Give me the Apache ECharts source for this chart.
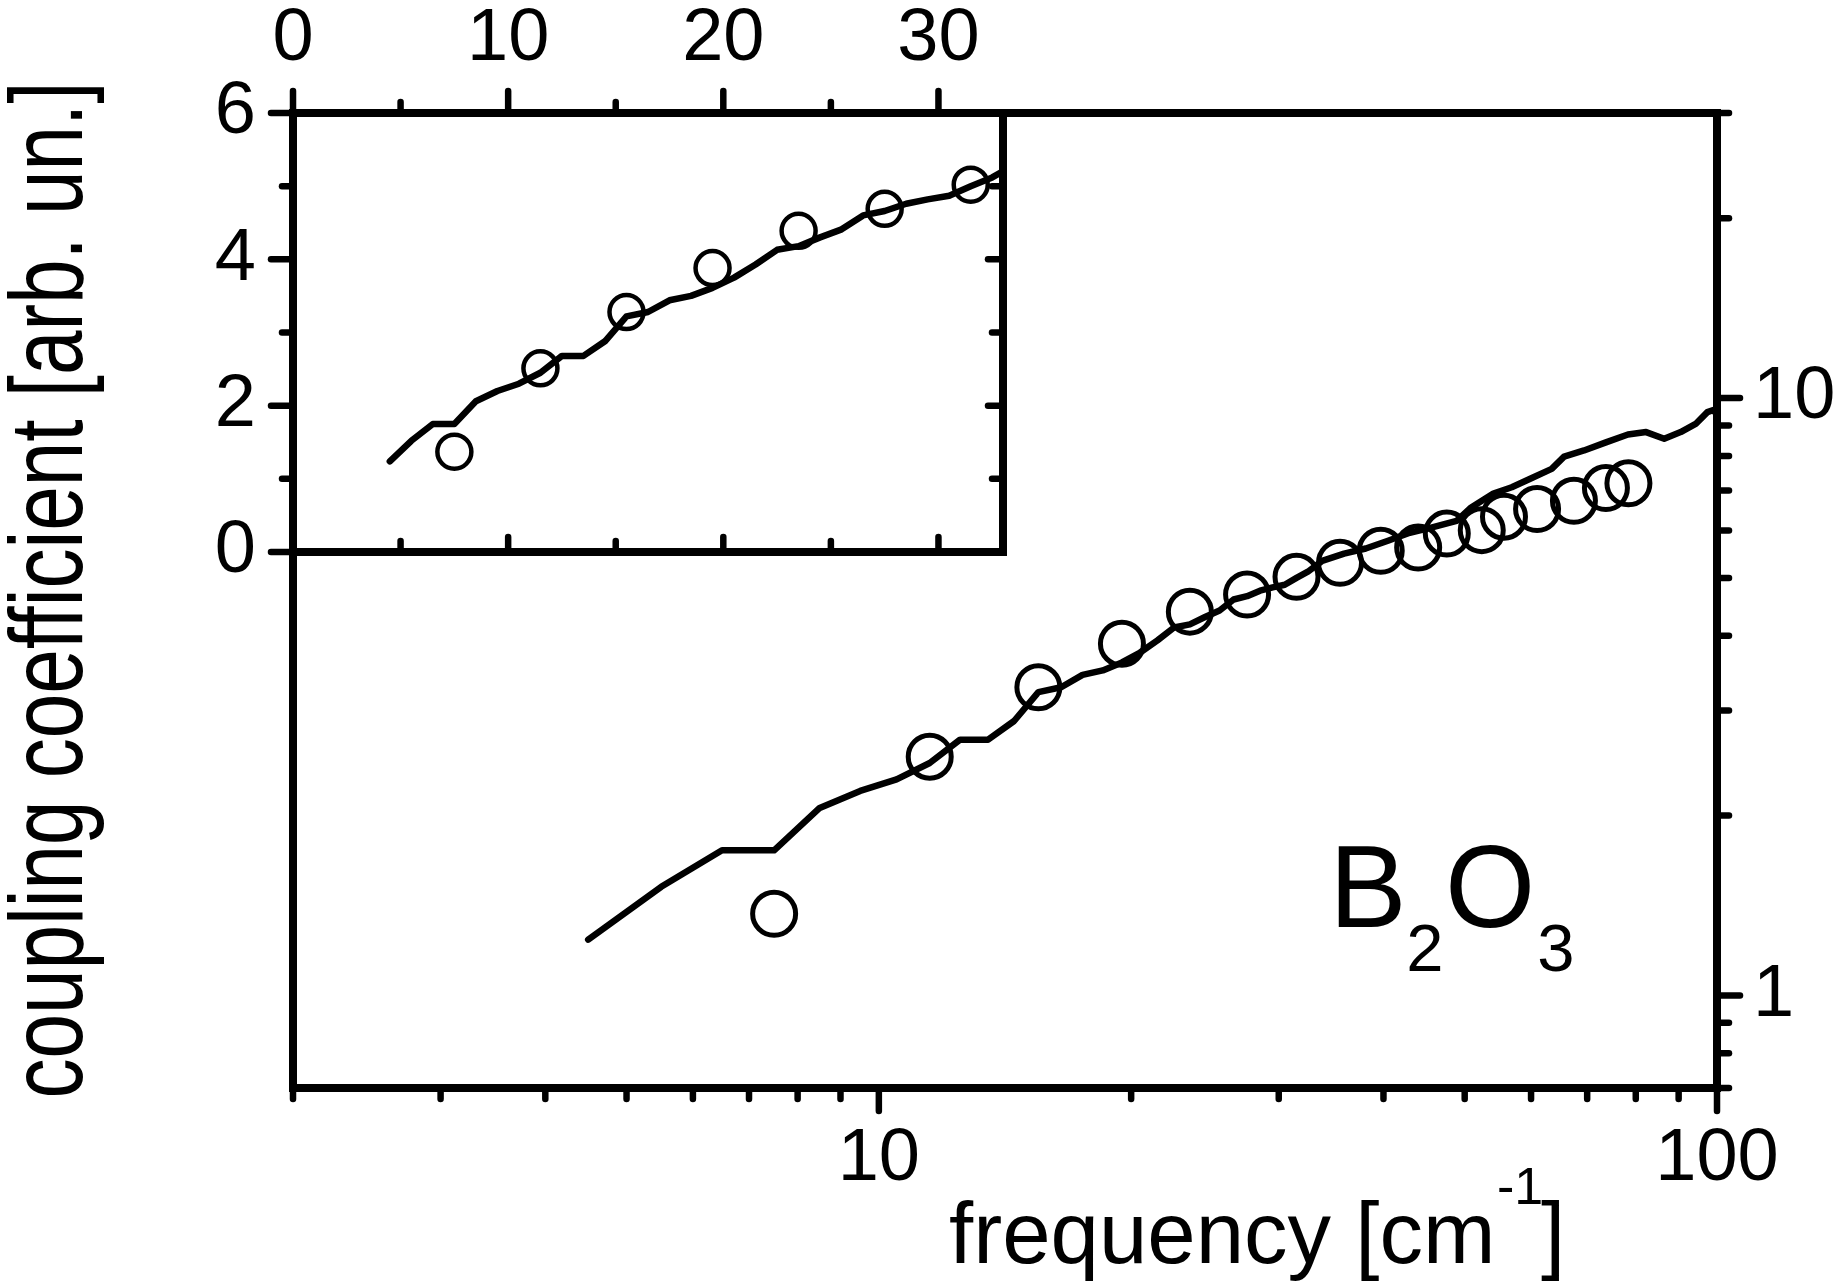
<!DOCTYPE html>
<html>
<head>
<meta charset="utf-8">
<script src="https://cdn.jsdelivr.net/npm/echarts@6/dist/echarts.min.js"></script>
<style>
html,body{margin:0;padding:0;background:#fff;}
#c{width:1843px;height:1287px;}
</style>
</head>
<body>
<div id="c"></div>
<script>
// ---- data ----
const freqLine = [4.5,5.5,6.5,7.5,8.5,9.5,10.5,11.5,12.5,13.5,14.5,15.5,16.5,17.5,18.5,19.5,20.5,21.5,22.5,23.5,24.5,25.5,26.5,27.5,28.5,29.5,30.5,31.5,32.5,33.8,35.9,38.1,40.5,43.0,45.6,48.9,50.9,54.1,56.9,60.4,63.5,65.7,69.4,73.7,78.3,82.3,86.5,90.5,94.3,97.4,99.0,99.9];
const coupLine = [1.24,1.52,1.75,1.75,2.06,2.20,2.30,2.45,2.68,2.68,2.88,3.22,3.28,3.44,3.50,3.61,3.75,3.93,4.13,4.18,4.30,4.41,4.60,4.66,4.76,4.82,4.87,5.00,5.12,5.34,5.49,5.60,5.77,5.95,6.07,6.23,6.56,6.92,7.09,7.37,7.61,7.98,8.17,8.43,8.69,8.77,8.55,8.77,9.05,9.47,9.55,9.40];
const freqCircles = [7.5,11.5,15.5,19.5,23.5,27.5,31.5,35.5,39.7,44.0,47.6,52.4,55.7,61.0,67.5,73.7,78.4];
const coupCircles = [1.37,2.51,3.28,3.88,4.39,4.69,5.02,5.30,5.55,5.62,5.93,6.01,6.33,6.52,6.73,7.07,7.20];

// ---- tick values and labels ----
const mainXLabels = [10, 100];
const mainXMajorTicks = [10, 100];
const mainXMinorTicks = [2,3,4,5,6,7,8,9,20,30,40,50,60,70,80,90];
const mainYLabels = [1, 10];
const mainYMajorTicks = [1, 10];
const mainYMinorTicks = [0.7,0.8,0.9,2,3,4,5,6,7,8,9,20,30];
const insetXLabels = [0, 10, 20, 30];
const insetXMajorTicks = [0, 10, 20, 30];
const insetXMinorTicks = [5, 15, 25];
const insetYLabels = [0, 2, 4, 6];
const insetYMajorTicks = [0, 2, 4, 6];
const insetYMinorTicks = [1, 3, 5];
const insetBottomMajorTicks = [10, 20, 30];
const insetBottomMinorTicks = [5, 15, 25];
const insetRightMajorTicks = [2, 4];
const insetRightMinorTicks = [1, 3, 5];

const FONT = '"Liberation Sans", Arial, Helvetica, sans-serif';
const LW = 8;

const lineData = freqLine.map((f, i) => [f, coupLine[i]]);
const circleData = freqCircles.map((f, i) => [f, coupCircles[i]]);

function near(list, v) { return list.some(t => Math.abs(t - v) <= 1e-6 * Math.max(1, Math.abs(t))); }

function tickSeries(xi, yi, values, dir, base, dx, dy, len) {
  return {
    type: 'custom', xAxisIndex: xi, yAxisIndex: yi, clip: false, silent: true, z: 6,
    data: values.map(v => dir === 'x' ? [v, base] : [base, v]),
    renderItem: function (params, api) {
      const p = api.coord([api.value(0), api.value(1)]);
      return {
        type: 'line',
        shape: { x1: p[0], y1: p[1], x2: p[0] + dx * len, y2: p[1] + dy * len },
        style: { stroke: '#000', lineWidth: 6.5, lineCap: 'round' }
      };
    }
  };
}

const axisLine = { show: true, onZero: false, lineStyle: { color: '#000', width: LW, cap: 'square' } };
const labelBase = { fontSize: 74, fontFamily: FONT, color: '#000' };

const option = {
  animation: false,
  backgroundColor: '#fff',
  grid: [
    { left: 293, top: 113, width: 1424, height: 975, outerBoundsMode: 'none', containLabel: false },
    { left: 293, top: 113, width: 710, height: 439, outerBoundsMode: 'none', containLabel: false }
  ],
  xAxis: [
    { gridIndex: 0, type: 'log', logBase: 10, min: 2, max: 100, position: 'bottom',
      axisLine: axisLine, axisTick: { show: false }, splitLine: { show: false }, minorTick: { show: false },
      axisLabel: Object.assign({ margin: 35, formatter: v => near(mainXLabels, v) ? String(Math.round(v)) : '' }, labelBase) },
    { gridIndex: 0, type: 'log', logBase: 10, min: 2, max: 100, position: 'top',
      axisLine: axisLine, axisTick: { show: false }, splitLine: { show: false }, axisLabel: { show: false } },
    { gridIndex: 1, type: 'value', min: 0, max: 33, interval: 10, position: 'top',
      axisLine: axisLine, axisTick: { show: false }, splitLine: { show: false },
      axisLabel: Object.assign({ margin: 36, formatter: v => near(insetXLabels, v) ? String(v) : '' }, labelBase) },
    { gridIndex: 1, type: 'value', min: 0, max: 33, position: 'bottom',
      axisLine: axisLine, axisTick: { show: false }, splitLine: { show: false }, axisLabel: { show: false } }
  ],
  yAxis: [
    { gridIndex: 0, type: 'log', logBase: 10, min: 0.7, max: 30, position: 'right',
      axisLine: axisLine, axisTick: { show: false }, splitLine: { show: false },
      axisLabel: Object.assign({ margin: 36, formatter: v => near(mainYLabels, v) ? String(Math.round(v)) : '' }, labelBase) },
    { gridIndex: 0, type: 'log', logBase: 10, min: 0.7, max: 30, position: 'left',
      axisLine: axisLine, axisTick: { show: false }, splitLine: { show: false }, axisLabel: { show: false } },
    { gridIndex: 1, type: 'value', min: 0, max: 6, interval: 2, position: 'left',
      axisLine: axisLine, axisTick: { show: false }, splitLine: { show: false },
      axisLabel: Object.assign({ margin: 37, formatter: v => near(insetYLabels, v) ? String(v) : '' }, labelBase) },
    { gridIndex: 1, type: 'value', min: 0, max: 6, position: 'right',
      axisLine: axisLine, axisTick: { show: false }, splitLine: { show: false }, axisLabel: { show: false } }
  ],
  series: [
    { type: 'line', xAxisIndex: 0, yAxisIndex: 0, data: lineData, showSymbol: false, symbol: 'none',
      clip: true, z: 3, silent: true,
      lineStyle: { color: '#000', width: 6.5, join: 'round', cap: 'round', opacity: 1 } },
    { type: 'scatter', xAxisIndex: 0, yAxisIndex: 0, data: circleData, symbol: 'circle', symbolSize: 43,
      z: 4, silent: true,
      itemStyle: { color: 'transparent', borderColor: '#000', borderWidth: 5, opacity: 1 } },
    { type: 'line', xAxisIndex: 2, yAxisIndex: 2, data: lineData, showSymbol: false, symbol: 'none',
      clip: true, z: 3, silent: true,
      lineStyle: { color: '#000', width: 6.5, join: 'round', cap: 'round', opacity: 1 } },
    { type: 'scatter', xAxisIndex: 2, yAxisIndex: 2, data: circleData, symbol: 'circle', symbolSize: 34,
      clip: true, z: 4, silent: true,
      itemStyle: { color: 'transparent', borderColor: '#000', borderWidth: 4.5, opacity: 1 } },

    tickSeries(0, 0, mainXMajorTicks, 'x', 0.7, 0, 1, 23),
    tickSeries(0, 0, mainXMinorTicks, 'x', 0.7, 0, 1, 11),
    tickSeries(0, 0, mainYMajorTicks, 'y', 100, 1, 0, 23),
    tickSeries(0, 0, mainYMinorTicks, 'y', 100, 1, 0, 12),
    tickSeries(2, 2, insetXMajorTicks, 'x', 6, 0, -1, 22),
    tickSeries(2, 2, insetXMinorTicks, 'x', 6, 0, -1, 11),
    tickSeries(2, 2, insetYMajorTicks, 'y', 0, -1, 0, 22),
    tickSeries(2, 2, insetYMinorTicks, 'y', 0, -1, 0, 11),
    tickSeries(2, 2, insetBottomMajorTicks, 'x', 0, 0, -1, 15),
    tickSeries(2, 2, insetBottomMinorTicks, 'x', 0, 0, -1, 11),
    tickSeries(2, 2, insetRightMajorTicks, 'y', 33, -1, 0, 15),
    tickSeries(2, 2, insetRightMinorTicks, 'y', 33, -1, 0, 11)
  ],
  graphic: [
    { type: 'text', x: 949, y: 1239, silent: true,
      style: { text: 'frequency [cm', fontSize: 87, fontFamily: FONT, fill: '#000', align: 'left', verticalAlign: 'middle' } },
    { type: 'text', x: 1497, y: 1190, silent: true,
      style: { text: '-1', fontSize: 52, fontFamily: FONT, fill: '#000', align: 'left', verticalAlign: 'middle' } },
    { type: 'text', x: 1541, y: 1239, silent: true,
      style: { text: ']', fontSize: 87, fontFamily: FONT, fill: '#000', align: 'left', verticalAlign: 'middle' } },
    { type: 'text', x: 53, y: 590, rotation: Math.PI / 2, scaleX: 1, scaleY: 1.3, silent: true,
      style: { text: 'coupling coefficient [arb. un.]', fontSize: 80, fontFamily: FONT, fill: '#000', align: 'center', verticalAlign: 'middle' } },
    { type: 'text', x: 1368, y: 895, silent: true,
      style: { text: 'B', fontSize: 116, fontFamily: FONT, fill: '#000', align: 'center', verticalAlign: 'middle' } },
    { type: 'text', x: 1425, y: 953, silent: true,
      style: { text: '2', fontSize: 67, fontFamily: FONT, fill: '#000', align: 'center', verticalAlign: 'middle' } },
    { type: 'text', x: 1490, y: 895, silent: true,
      style: { text: 'O', fontSize: 116, fontFamily: FONT, fill: '#000', align: 'center', verticalAlign: 'middle' } },
    { type: 'text', x: 1556, y: 953, silent: true,
      style: { text: '3', fontSize: 67, fontFamily: FONT, fill: '#000', align: 'center', verticalAlign: 'middle' } }
  ]
};

const chart = echarts.init(document.getElementById('c'), null, { renderer: 'canvas' });
chart.setOption(option);
</script>
</body>
</html>
